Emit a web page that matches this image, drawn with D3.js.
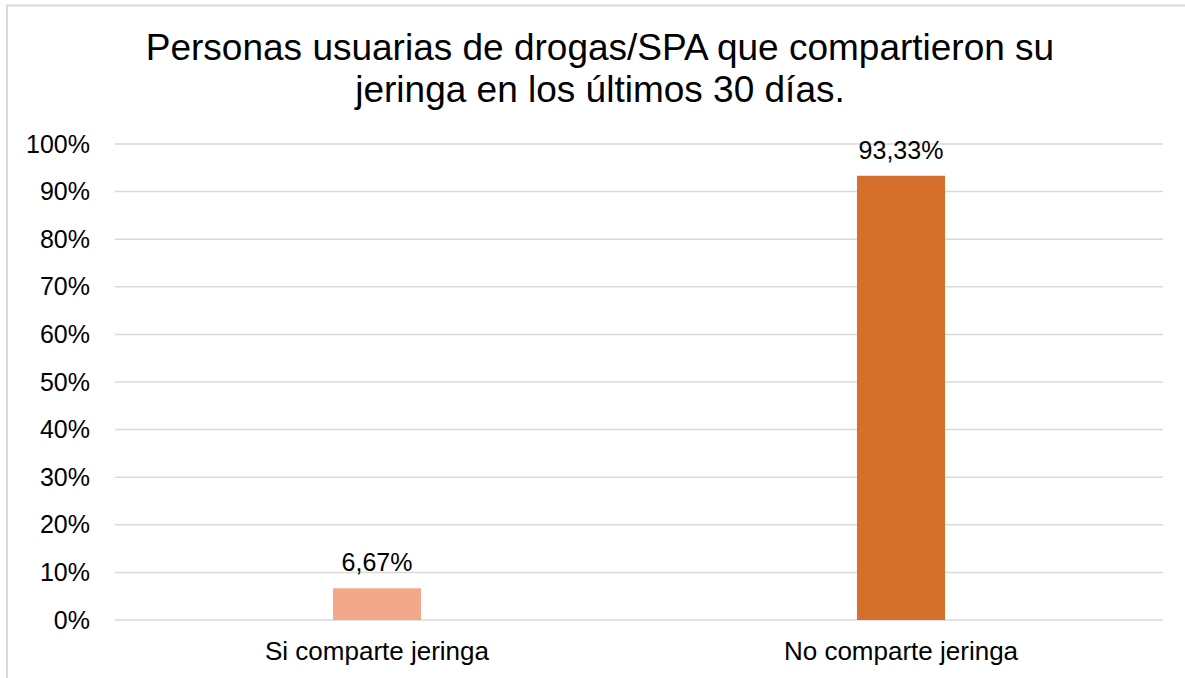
<!DOCTYPE html>
<html>
<head>
<meta charset="utf-8">
<script src="https://cdn.jsdelivr.net/npm/d3@7"></script>
<style>
  body { margin: 0; background: #fff; }
  svg text { font-family: "Liberation Sans", Arial, sans-serif; fill: #000; }
</style>
</head>
<body>
<div id="chart"></div>
<script>
var categories = ['Si comparte jeringa', 'No comparte jeringa'];
var values = [6.67, 93.33];
var valueLabels = ['6,67%', '93,33%'];
var barColors = ['#f1a98a', '#d46f2c'];
var yTicks = [0, 10, 20, 30, 40, 50, 60, 70, 80, 90, 100];
var titleLines = ['Personas usuarias de drogas/SPA que compartieron su', 'jeringa en los últimos 30 días.'];

var svgWidth = 1185;
var svgHeight = 678;

var svg = d3.select('#chart').append('svg')
    .attr('width', svgWidth)
    .attr('height', svgHeight);

// chart frame (only top and left edges show in the picture)
svg.append('path')
    .attr('d', 'M7,' + svgHeight + 'V5.5H' + svgWidth)
    .attr('fill', 'none')
    .attr('stroke', '#d9d9d9')
    .attr('stroke-width', 2);

var x = d3.scaleBand()
    .domain(categories)
    .range([115, 1163])
    .paddingInner(0.832)
    .paddingOuter(0.416);

var y = d3.scaleLinear()
    .domain([0, 100])
    .range([620, 144]);

// title
svg.append('text')
    .attr('text-anchor', 'middle')
    .style('font-size', '37px')
    .selectAll('tspan')
    .data(titleLines)
    .enter()
    .append('tspan')
    .attr('x', 600)
    .attr('y', function (d, i) { return 60 + i * 42; })
    .text(function (d) { return d; });

// gridlines
svg.append('g')
    .selectAll('line')
    .data(yTicks)
    .enter()
    .append('line')
    .attr('x1', 115)
    .attr('x2', 1163)
    .attr('y1', function (d) { return y(d); })
    .attr('y2', function (d) { return y(d); })
    .attr('stroke', '#d9d9d9')
    .attr('stroke-width', 1.5);

// y axis labels
var yAxis = d3.axisLeft(y)
    .tickValues(yTicks)
    .tickFormat(function (d) { return d + '%'; })
    .tickSize(0)
    .tickPadding(25);

var yg = svg.append('g')
    .attr('transform', 'translate(115,0)')
    .call(yAxis);
yg.select('.domain').remove();
yg.selectAll('text').style('font-size', '25px').attr('fill', '#000');

// x axis labels
var xAxis = d3.axisBottom(x).tickSize(0).tickPadding(22);
var xg = svg.append('g')
    .attr('transform', 'translate(0,620)')
    .call(xAxis);
xg.select('.domain').remove();
xg.selectAll('text').style('font-size', '26px').attr('fill', '#000');

// bars
svg.selectAll('rect.bar')
    .data(values)
    .enter()
    .append('rect')
    .attr('class', 'bar')
    .attr('x', function (d, i) { return x(categories[i]); })
    .attr('width', x.bandwidth())
    .attr('y', function (d) { return y(d); })
    .attr('height', function (d) { return y(0) - y(d); })
    .attr('fill', function (d, i) { return barColors[i]; });

// value labels
svg.selectAll('text.val')
    .data(values)
    .enter()
    .append('text')
    .attr('class', 'val')
    .attr('text-anchor', 'middle')
    .style('font-size', '25px')
    .attr('x', function (d, i) { return x(categories[i]) + x.bandwidth() / 2; })
    .attr('y', function (d) { return y(d) - 17; })
    .text(function (d, i) { return valueLabels[i]; });
</script>
</body>
</html>
